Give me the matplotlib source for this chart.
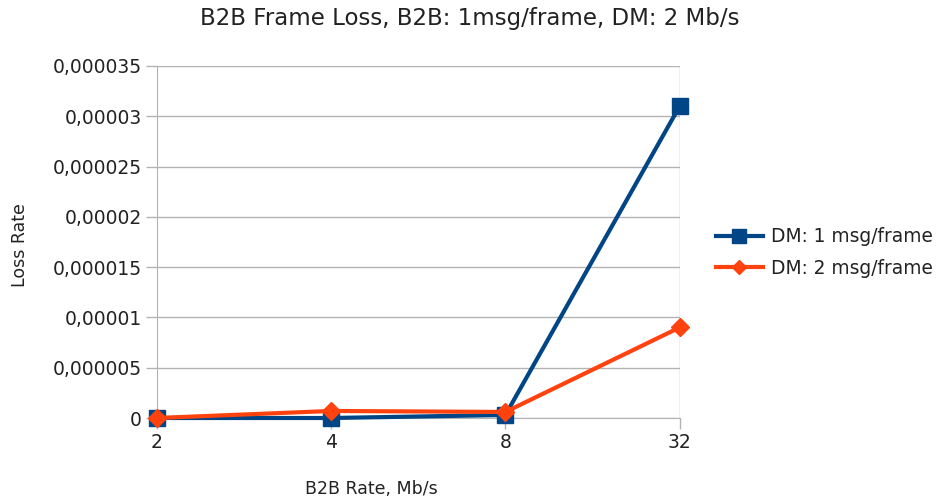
import matplotlib.pyplot as plt
from matplotlib.ticker import FuncFormatter, MultipleLocator

plt.rcParams['font.family'] = ['DejaVu Sans']

categories = ["2", "4", "8", "32"]
dm_1msg = [0, 0, 0.0000003, 0.000031]
dm_2msg = [0, 0.0000007, 0.0000006, 0.000009]

fig = plt.figure(figsize=(9.4, 5), dpi=100)
ax = fig.add_axes([0.167, 0.164, 0.556, 0.704])

x = range(len(categories))
ax.plot(x, dm_1msg, color="#004586", linewidth=3, marker="s", markersize=12,
        label="DM: 1 msg/frame", zorder=3, clip_on=False)
ax.plot(x, dm_2msg, color="#ff420e", linewidth=3, marker="D", markersize=9.5,
        label="DM: 2 msg/frame", zorder=4, clip_on=False)

ax.set_xlim(0, len(categories) - 1)
ax.set_ylim(0, 0.000035)
ax.set_xticks(list(x))
ax.set_xticklabels(categories)
ax.yaxis.set_major_locator(MultipleLocator(0.000005))


def comma_fmt(v, pos):
    s = f"{v:.6f}".rstrip('0').rstrip('.')
    return s.replace('.', ',')


ax.yaxis.set_major_formatter(FuncFormatter(comma_fmt))

ax.grid(axis='y', color='#b3b3b3', linewidth=1)
ax.axvline(len(categories) - 1, color='#b3b3b3', linewidth=1, zorder=1)
for side in ['top', 'right']:
    ax.spines[side].set_visible(False)
for side in ['left', 'bottom']:
    ax.spines[side].set_color('#b3b3b3')
ax.tick_params(colors='#b3b3b3', labelcolor='#222222', labelsize=13.5, length=8, width=1, pad=3)
ax.set_axisbelow(True)

ax.set_xlabel("B2B Rate, Mb/s", fontsize=12.5, color='#222222')
ax.xaxis.set_label_coords(0.411, -0.175)
ax.set_ylabel("Loss Rate", fontsize=12.5, color='#222222')
ax.yaxis.set_label_coords(-0.245, 0.49)
fig.suptitle("B2B Frame Loss, B2B: 1msg/frame, DM: 2 Mb/s", fontsize=16.5, y=0.985,
             color='#222222')

ax.legend(loc='center left', bbox_to_anchor=(716 / 940, 0.495),
          bbox_transform=fig.transFigure, frameon=False, markerscale=0.8,
          fontsize=13.4, handlelength=2.5, handletextpad=0.45, labelspacing=0.68,
          borderaxespad=0, borderpad=0, labelcolor='#222222')

fig.savefig("out.png", dpi=100)
